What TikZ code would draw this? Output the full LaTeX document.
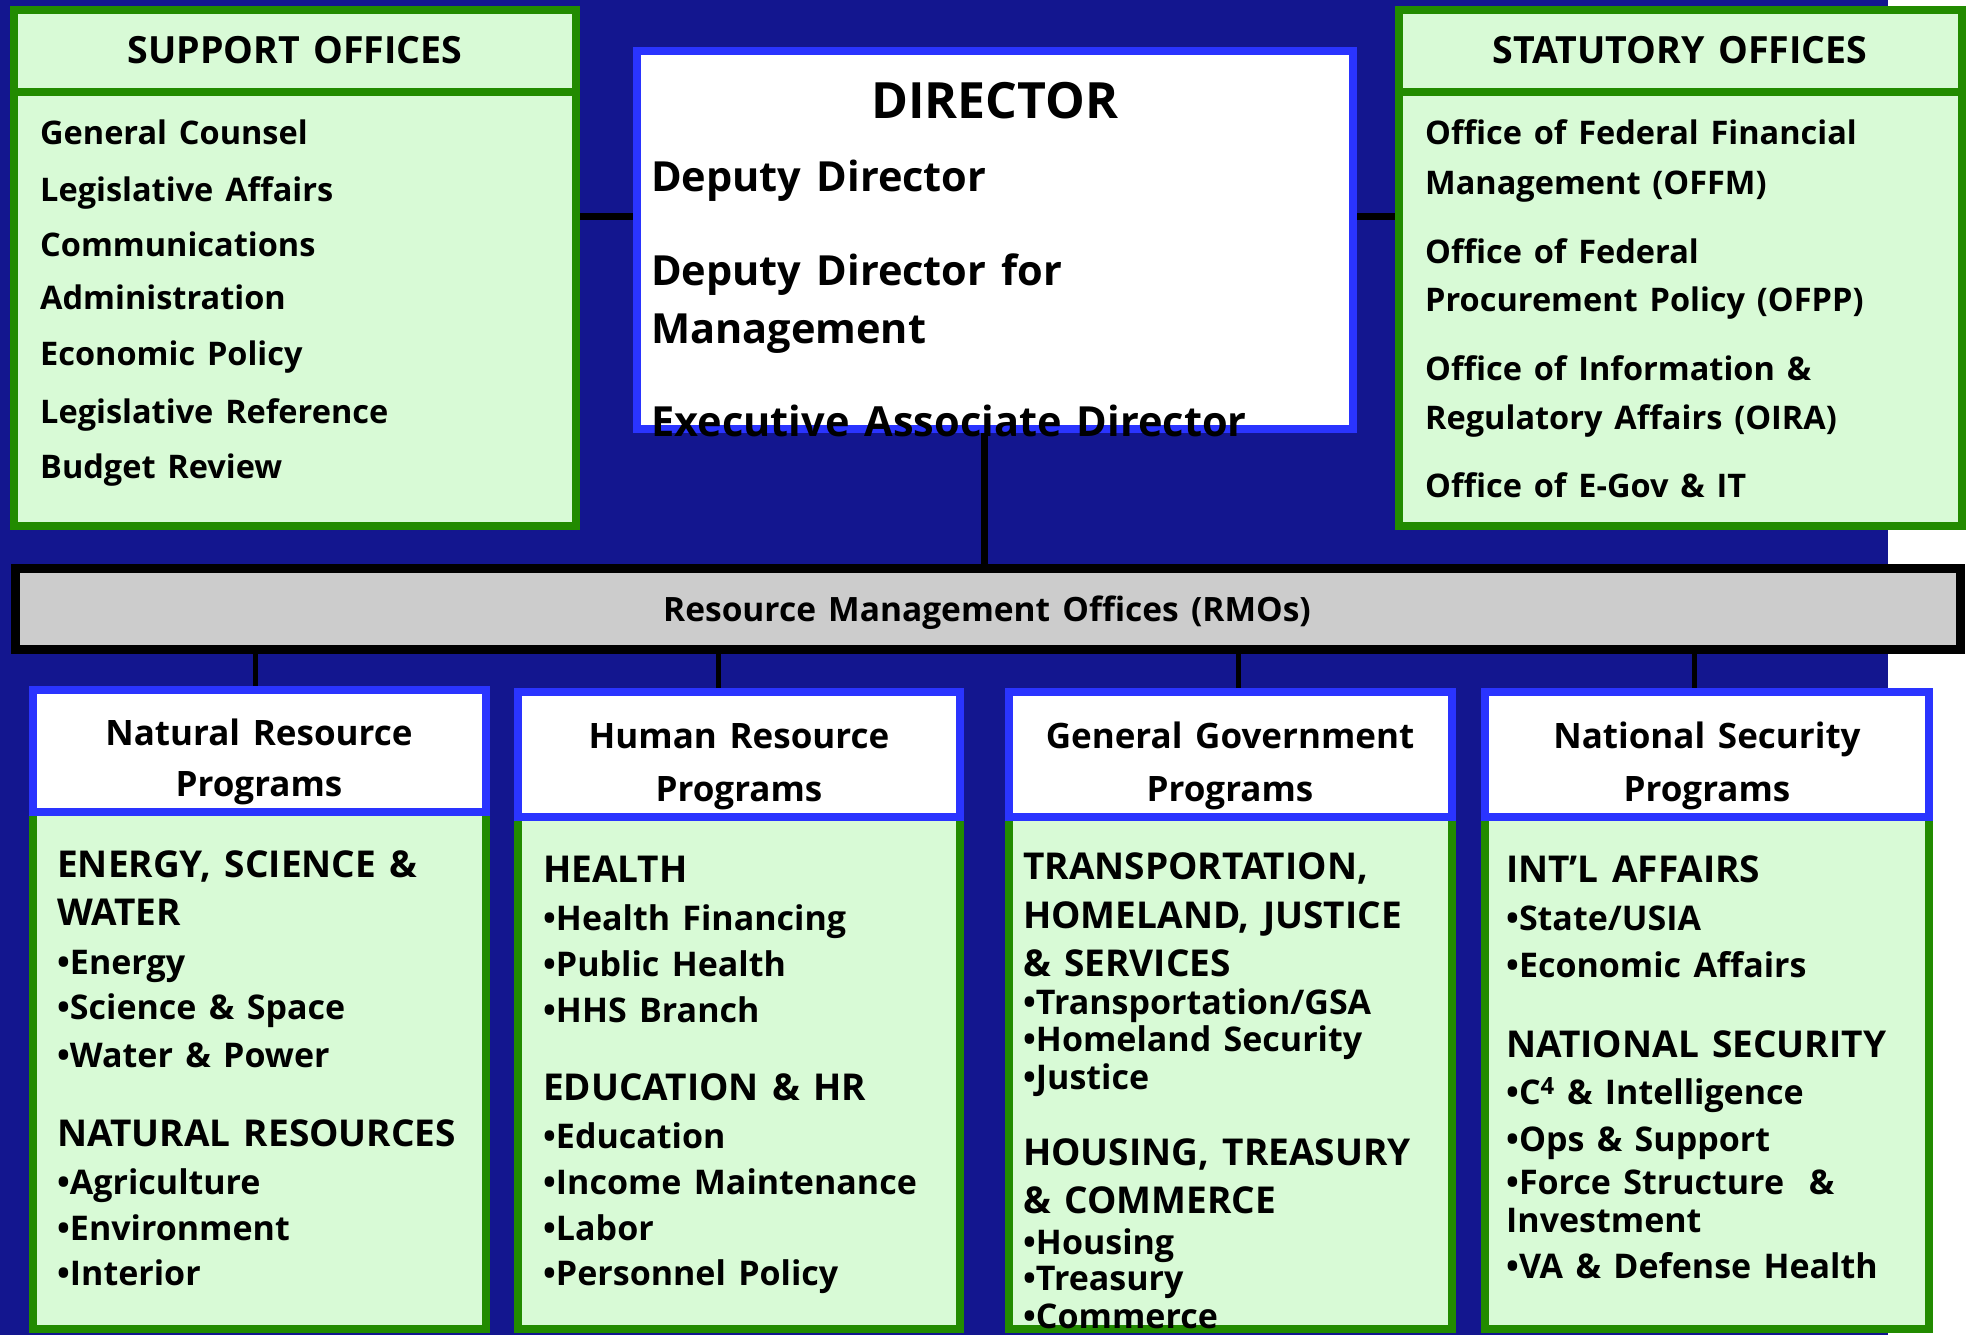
\documentclass[tikz,border=0pt]{standalone}
\usepackage{fontspec}
\setmainfont{Open Sans}[WordSpace=1.4]
\definecolor{navy}{RGB}{19,22,143}
\definecolor{lgreen}{RGB}{216,250,214}
\definecolor{dgreen}{RGB}{34,139,0}
\definecolor{bblue}{RGB}{42,52,255}
\definecolor{rmogray}{RGB}{204,204,204}
\newcommand\myfsmall{\fontsize{32.5}{40}\selectfont\bfseries}
\newcommand\myfhead{\fontsize{37.5}{44}\selectfont\bfseries}
\newcommand\myfrmo{\fontsize{33.5}{40}\selectfont\bfseries}
\newcommand\myfdir{\fontsize{50}{60}\selectfont\bfseries}
\newcommand\myfdep{\fontsize{41.5}{50}\selectfont\bfseries}
\newcommand\myfprog{\fontsize{35}{42}\selectfont\bfseries}
\newcommand\myfpb{\fontsize{34}{40}\selectfont\bfseries}
\newcommand\myfpc{\fontsize{37}{44}\selectfont\bfseries}
\pgfdeclarelayer{bg}
\pgfdeclarelayer{lines}
\pgfsetlayers{bg,lines,main}
\begin{document}
\begin{tikzpicture}[x=1pt,y=-1pt,
  greenbox/.style={rectangle, draw=dgreen, fill=lgreen, line width=8pt, anchor=north west, inner sep=0pt, outer sep=0pt},
  bluebox/.style={rectangle, draw=bblue, fill=white, line width=8pt, anchor=north west, inner sep=0pt, outer sep=0pt},
  rmobox/.style={rectangle, draw=black, fill=rmogray, line width=9pt, anchor=north west, inner sep=0pt, outer sep=0pt},
  conn/.style={draw=black, line width=7pt},
  conn2/.style={draw=black, line width=5pt},
  lt/.style={anchor=base west, inner sep=0pt, font=\myfsmall},
  ht/.style={anchor=base, inner sep=0pt, font=\myfhead},
  pt/.style={anchor=base, inner sep=0pt, font=\myfprog},
  pb/.style={anchor=base west, inner sep=0pt, font=\myfpb},
  pc/.style={anchor=base west, inner sep=0pt, font=\myfpc},
  dt/.style={anchor=base west, inner sep=0pt, font=\myfdep}]
\useasboundingbox (0,0) rectangle (1971,1335);
\begin{pgfonlayer}{bg}
\fill[white] (0,0) rectangle (1971,1335);
\fill[navy] (0,0) rectangle (1888,1335);
\end{pgfonlayer}

% support offices
\node[greenbox, minimum width=562pt, minimum height=434pt] (supbody) at (14,92) {};
\node[greenbox, minimum width=562pt, minimum height=82pt] (suphead) at (14,10) {};
% statutory offices
\node[greenbox, minimum width=563pt, minimum height=434pt] (statbody) at (1399,92) {};
\node[greenbox, minimum width=563pt, minimum height=82pt] (stathead) at (1399,10) {};
% director
\node[bluebox, minimum width=716pt, minimum height=378pt] (dir) at (637,51) {};
% RMO bar
\node[rmobox, minimum width=1945pt, minimum height=81pt] (rmo) at (15.5,568.5) {};
% program bodies
\node[greenbox, minimum width=453pt, minimum height=517pt] (nrb) at (33,812) {};
\node[greenbox, minimum width=442pt, minimum height=512pt] (hrb) at (518,817) {};
\node[greenbox, minimum width=443pt, minimum height=512pt] (ggb) at (1009,817) {};
\node[greenbox, minimum width=444pt, minimum height=512pt] (nsb) at (1485,817) {};
% program headers
\node[bluebox, minimum width=453pt, minimum height=122pt] (nrh) at (33,690) {};
\node[bluebox, minimum width=442pt, minimum height=125pt] (hrh) at (518,692) {};
\node[bluebox, minimum width=443pt, minimum height=125pt] (ggh) at (1009,692) {};
\node[bluebox, minimum width=444pt, minimum height=125pt] (nsh) at (1485,692) {};

% connectors
\coordinate (lev) at (0,216);
\coordinate (vx) at (984,0);
\coordinate (c1) at (255,0);
\coordinate (c2) at (718,0);
\coordinate (c3) at (1238,0);
\coordinate (c4) at (1694,0);
\begin{pgfonlayer}{lines}
\draw[conn] (supbody.east |- lev) -- (dir.west |- lev);
\draw[conn] (dir.east |- lev) -- (statbody.west |- lev);
\draw[conn] (vx |- dir.south) -- (vx |- rmo.north);
\draw[conn2] (c1 |- rmo.south) -- (c1 |- nrh.north);
\draw[conn2] (c2 |- rmo.south) -- (c2 |- hrh.north);
\draw[conn2] (c3 |- rmo.south) -- (c3 |- ggh.north);
\draw[conn2] (c4 |- rmo.south) -- (c4 |- nsh.north);
\end{pgfonlayer}

% support texts
\node[ht] (soh) at (295,64) {SUPPORT OFFICES};
\node[lt] (so1) at (40,145) {General Counsel};
\node[lt] (so2) at (40,201) {Legislative Affairs};
\node[lt] (so3) at (40,256) {Communications};
\node[lt] (so4) at (40,309) {Administration};
\node[lt] (so5) at (40,365) {Economic Policy};
\node[lt] (so6) at (40,423) {Legislative Reference};
\node[lt] (so7) at (40,478) {Budget Review};
% statutory texts
\node[ht] (sth) at (1680,64) {STATUTORY OFFICES};
\node[lt] (st1) at (1425,145) {Office of Federal Financial};
\node[lt] (st2) at (1425,194) {Management (OFFM)};
\node[lt] (st3) at (1425,263) {Office of Federal};
\node[lt] (st4) at (1425,311) {Procurement Policy (OFPP)};
\node[lt] (st5) at (1425,380) {Office of Information \&};
\node[lt] (st6) at (1425,429) {Regulatory Affairs (OIRA)};
\node[lt] (st7) at (1425,497) {Office of E-Gov \& IT};
% director texts
\node[anchor=base, inner sep=0pt, font=\myfdir] (d0) at (995,119) {DIRECTOR};
\node[dt] (d1) at (651,192) {Deputy Director};
\node[dt] (d2) at (651,285) {Deputy Director for};
\node[dt] (d3) at (651,343) {Management};
\node[dt] (d4) at (651,436) {Executive Associate Director};
% RMO text
\node[anchor=base, inner sep=0pt, font=\myfrmo] (rmot) at (987,621) {Resource Management Offices (RMOs)};
% program header texts
\node[pt] (nr1) at (259,745) {Natural Resource};
\node[pt] (nr2) at (259,796) {Programs};
\node[pt] (hr1) at (739,748) {Human Resource};
\node[pt] (hr2) at (739,801) {Programs};
\node[pt] (gg1) at (1230,748) {General Government};
\node[pt] (gg2) at (1230,801) {Programs};
\node[pt] (ns1) at (1707,748) {National Security};
\node[pt] (ns2) at (1707,801) {Programs};
% natural resource body
\node[pc] (a1) at (57,877) {ENERGY, SCIENCE \&};
\node[pc] (a2) at (57,925) {WATER};
\node[pb] (a3) at (57,974) {•Energy};
\node[pb] (a4) at (57,1019) {•Science \& Space};
\node[pb] (a5) at (57,1067) {•Water \& Power};
\node[pc] (a6) at (57,1146) {NATURAL RESOURCES};
\node[pb] (a7) at (57,1194) {•Agriculture};
\node[pb] (a8) at (57,1240) {•Environment};
\node[pb] (a9) at (57,1285) {•Interior};
% human resource body
\node[pc] (b1) at (543,882) {HEALTH};
\node[pb] (b2) at (543,930) {•Health Financing};
\node[pb] (b3) at (543,976) {•Public Health};
\node[pb] (b4) at (543,1022) {•HHS Branch};
\node[pc] (b5) at (543,1100) {EDUCATION \& HR};
\node[pb] (b6) at (543,1148) {•Education};
\node[pb] (b7) at (543,1194) {•Income Maintenance};
\node[pb] (b8) at (543,1240) {•Labor};
\node[pb] (b9) at (543,1285) {•Personnel Policy};
% general government body
\node[pc] (g1) at (1023,879) {TRANSPORTATION,};
\node[pc] (g2) at (1023,928) {HOMELAND, JUSTICE};
\node[pc] (g3) at (1023,976) {\& SERVICES};
\node[pb] (g4) at (1023,1014) {•Transportation/GSA};
\node[pb] (g5) at (1023,1051) {•Homeland Security};
\node[pb] (g6) at (1023,1089) {•Justice};
\node[pc] (g7) at (1023,1165) {HOUSING, TREASURY};
\node[pc] (g8) at (1023,1213) {\& COMMERCE};
\node[pb] (g9) at (1023,1254) {•Housing};
\node[pb] (g10) at (1023,1290) {•Treasury};
\node[pb] (g11) at (1023,1328) {•Commerce};
% national security body
\node[pc] (n1) at (1506,882) {INT’L AFFAIRS};
\node[pb] (n2) at (1506,930) {•State/USIA};
\node[pb] (n3) at (1506,977) {•Economic Affairs};
\node[pc] (n4) at (1506,1057) {NATIONAL SECURITY};
\node[pb] (n5) at (1506,1104) {•C\textsuperscript{4} \& Intelligence};
\node[pb] (n6) at (1506,1151) {•Ops \& Support};
\node[pb] (n7) at (1506,1194) {•Force Structure\ \ \&};
\node[pb] (n8) at (1506,1232) {Investment};
\node[pb] (n9) at (1506,1278) {•VA \& Defense Health};
\end{tikzpicture}
\end{document}
